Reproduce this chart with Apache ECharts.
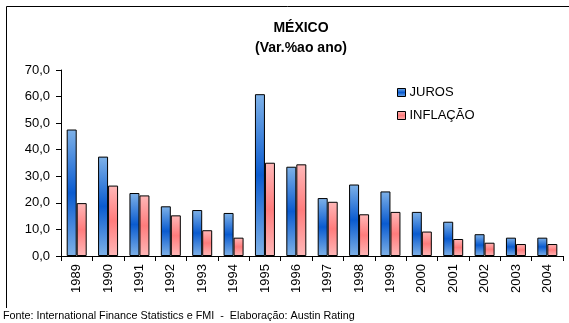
<!DOCTYPE html>
<html>
<head>
<meta charset="utf-8">
<script src="https://cdn.jsdelivr.net/npm/echarts@6/dist/echarts.min.js"></script>
<style>
 html, body { margin: 0; padding: 0; background: #fff; }
 #chart { width: 569px; height: 323px; }
</style>
</head>
<body>
<div id="chart"></div>
<script>
// dados
const anos = ['1989', '1990', '1991', '1992', '1993', '1994', '1995', '1996',
 '1997', '1998', '1999', '2000', '2001', '2002', '2003', '2004']
const juros = [47.6, 37.4, 23.7, 18.7, 17.3, 16.2, 60.9, 33.6, 21.8, 26.9, 24.3, 16.6, 12.9, 8.2, 6.9, 6.9]
const inflacao = [19.9, 26.5, 22.8, 15.3, 9.7, 6.9, 35.1, 34.5, 20.4, 15.7, 16.6, 9.2, 6.4, 5.0, 4.5, 4.5]

const fonte = 'Liberation Sans, Arial, sans-serif'

const grad = (top, mid) => new echarts.graphic.LinearGradient(0, 0, 0, 1, [
 { offset: 0, color: top },
 { offset: 0.5, color: mid },
 { offset: 1, color: top }
])

const setOption = () => {
 return {
  animation: false,
  textStyle: { fontFamily: fonte, color: '#000' },
  title: {
   text: 'MÉXICO\n(Var.%ao ano)',
   left: 296,
   textAlign: 'center',
   top: 13,
   textStyle: { fontSize: 14, fontWeight: 'bold', lineHeight: 20, fontFamily: fonte, color: '#000' }
  },
  legend: {
   orient: 'vertical',
   left: 392,
   top: 81,
   itemWidth: 8,
   itemHeight: 8,
   itemGap: 10,
   icon: 'rect',
   textStyle: { fontSize: 13, fontFamily: fonte, color: '#000', padding: [0, 0, 0, -1] },
   data: [
    { name: 'JUROS', itemStyle: { color: grad('#7fb2e8', '#0a5bd0'), borderColor: '#000', borderWidth: 1 } },
    { name: 'INFLAÇÃO', itemStyle: { color: grad('#ffb8b8', '#ff7c7c'), borderColor: '#000', borderWidth: 1 } }
   ]
  },
  grid: { left: 61, right: 6, top: 70, bottom: 67 },
  xAxis: {
   type: 'category',
   data: anos,
   axisLine: { lineStyle: { color: '#000', width: 1 } },
   axisTick: { show: true, length: 5, lineStyle: { color: '#000' } },
   axisLabel: { rotate: 90, fontSize: 13, color: '#000', margin: 8, fontFamily: fonte }
  },
  yAxis: {
   type: 'value',
   min: 0,
   max: 70,
   interval: 10,
   splitLine: { show: false },
   axisLine: { show: true, lineStyle: { color: '#000', width: 1 } },
   axisTick: { show: true, length: 5, lineStyle: { color: '#000' } },
   axisLabel: {
    fontSize: 13, color: '#000', margin: 11, fontFamily: fonte,
    formatter: v => v.toFixed(1).replace('.', ',')
   }
  },
  series: [
   {
    name: 'JUROS',
    type: 'bar',
    data: juros,
    barWidth: 10,
    barGap: '0%',
    itemStyle: { color: grad('#7fb2e8', '#0a5bd0'), borderColor: '#000', borderWidth: 1 }
   },
   {
    name: 'INFLAÇÃO',
    type: 'bar',
    data: inflacao,
    barWidth: 10,
    itemStyle: { color: grad('#ffb8b8', '#ff7c7c'), borderColor: '#000', borderWidth: 1 }
   }
  ],
  graphic: [
   {
    type: 'polyline',
    shape: { points: [[6.5, 308], [6.5, 6.5], [569, 6.5]] },
    style: { fill: null, stroke: '#000', lineWidth: 1 },
    silent: true
   },
   {
    type: 'text',
    left: 3,
    top: 311,
    style: {
     text: 'Fonte: International Finance Statistics e FMI  -  Elaboração: Austin Rating',
     font: '10.8px ' + fonte,
     fill: '#000'
    }
   }
  ]
 }
}

const chartDom = document.getElementById('chart')
const myChart = echarts.init(chartDom)
myChart.setOption(setOption(), true)
</script>
</body>
</html>
